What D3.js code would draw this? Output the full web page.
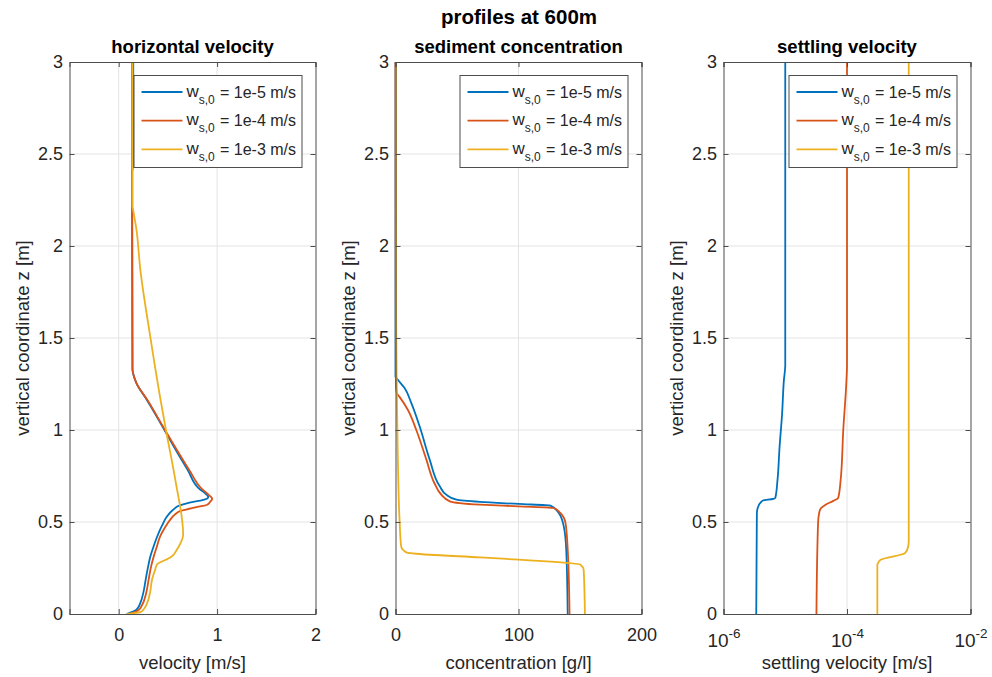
<!DOCTYPE html>
<html>
<head>
<meta charset="utf-8">
<script src="https://cdn.jsdelivr.net/npm/d3@7"></script>
<style>
  html, body { margin: 0; padding: 0; background: #fff; }
  svg { display: block; font-family: "Liberation Sans", Arial, Helvetica, sans-serif; }
</style>
</head>
<body>
<svg id="chart" width="992" height="677"></svg>
<script>
// ---------------- DATA ----------------
const seriesNames = ["1e-5 m/s", "1e-4 m/s", "1e-3 m/s"];
const seriesColors = ["#0072BD", "#D95319", "#EDB120"];

// horizontal velocity [m/s] vs z [m]
const velZ_1e5 = [0, 0.023, 0.06, 0.115, 0.19, 0.26, 0.31, 0.36, 0.42, 0.48, 0.53, 0.565, 0.59, 0.605, 0.62, 0.635, 0.66, 0.675, 0.784, 0.91, 1.0, 1.16, 1.255, 1.30, 1.33, 2.4, 2.45, 3.0];
const velV_1e5 = [0.08, 0.18, 0.22, 0.25, 0.275, 0.30, 0.32, 0.35, 0.39, 0.44, 0.49, 0.55, 0.62, 0.72, 0.86, 0.91, 0.87, 0.83, 0.70, 0.56, 0.465, 0.29, 0.18, 0.15, 0.14, 0.137, 0.148, 0.148];
const velZ_1e4 = [0, 0.02, 0.046, 0.115, 0.19, 0.26, 0.32, 0.37, 0.42, 0.47, 0.51, 0.54, 0.56, 0.58, 0.594, 0.61, 0.627, 0.645, 0.68, 0.784, 0.91, 1.0, 1.16, 1.255, 1.30, 1.33, 3.0];
const velV_1e4 = [0.11, 0.20, 0.235, 0.28, 0.305, 0.33, 0.36, 0.39, 0.42, 0.47, 0.52, 0.57, 0.63, 0.78, 0.90, 0.93, 0.95, 0.92, 0.845, 0.715, 0.57, 0.47, 0.295, 0.18, 0.15, 0.14, 0.135];
const velZ_1e3 = [0, 0.01, 0.03, 0.06, 0.12, 0.19, 0.24, 0.27, 0.285, 0.30, 0.32, 0.34, 0.386, 0.43, 0.73, 1.0, 1.18, 1.51, 1.87, 2.09, 2.2, 2.215, 3.0];
const velV_1e3 = [0.08, 0.22, 0.26, 0.29, 0.32, 0.34, 0.37, 0.39, 0.44, 0.50, 0.555, 0.58, 0.63, 0.655, 0.575, 0.48, 0.42, 0.32, 0.22, 0.18, 0.145, 0.14, 0.14];

// sediment concentration [g/l] vs z [m]
const conZ_1e5 = [0, 0.35, 0.476, 0.549, 0.589, 0.598, 0.609, 0.621, 0.648, 0.694, 0.839, 1.02, 1.147, 1.228, 1.273, 1.29, 3.0];
const conC_1e5 = [140, 138.8, 136.8, 132.7, 126, 100, 68.7, 49.6, 41.4, 36, 27.8, 19.6, 12.8, 7.4, 1.9, 0, 0];
const conZ_1e4 = [0, 0.35, 0.495, 0.549, 0.576, 0.585, 0.594, 0.612, 0.648, 0.712, 0.839, 1.0, 1.11, 1.18, 1.2, 1.25, 3.0];
const conC_1e4 = [141.5, 140, 138.2, 134, 128.6, 100, 68.7, 44.2, 37.3, 31.6, 25.1, 16.9, 10, 3.3, 1.1, 0.3, 0];
const conZ_1e3 = [0, 0.24, 0.268, 0.286, 0.295, 0.308, 0.322, 0.335, 0.367, 0.51, 0.84, 1.2, 1.6, 3.0];
const conC_1e3 = [154, 153, 150.4, 123, 100, 68.7, 27.8, 8.7, 4.6, 3.3, 1.9, 1.1, 0.5, 0.3];

// settling velocity [m/s] vs z [m]
const wsZ_1e5 = [0, 0.549, 0.59, 0.605, 0.617, 0.625, 0.63, 0.73, 0.91, 1.09, 1.27, 1.35, 3.0];
const wsW_1e5 = [3.39e-6, 3.47e-6, 3.72e-6, 3.98e-6, 4.37e-6, 6.3e-6, 6.9e-6, 7.5e-6, 8.1e-6, 8.9e-6, 9.5e-6, 1e-5, 1e-5];
const wsZ_1e4 = [0, 0.495, 0.55, 0.57, 0.594, 0.615, 0.63, 0.73, 1.0, 1.27, 1.35, 3.0];
const wsW_1e4 = [3.2e-5, 3.4e-5, 3.55e-5, 3.7e-5, 4.5e-5, 6.0e-5, 7.2e-5, 7.9e-5, 8.7e-5, 9.8e-5, 1e-4, 1e-4];
const wsZ_1e3 = [0, 0.268, 0.285, 0.295, 0.331, 0.367, 0.4, 3.0];
const wsW_1e3 = [3.1e-4, 3.1e-4, 3.3e-4, 3.5e-4, 8.7e-4, 9.8e-4, 1e-3, 1e-3];

// axes / tick labels
const zTicks = [0, 0.5, 1, 1.5, 2, 2.5, 3];
const velTicks = [0, 1, 2];
const conTicks = [0, 100, 200];
const wsTicks = [1e-6, 1e-4, 1e-2];

const mainTitle = "profiles at 600m";
const panelTitles = ["horizontal velocity", "sediment concentration", "settling velocity"];
const xLabels = ["velocity [m/s]", "concentration [g/l]", "settling velocity [m/s]"];
const yLabel = "vertical coordinate z [m]";

// ---------------- DRAW ----------------
const svg = d3.select("#chart");
const TXT = "#262626", AX = "#4d4d4d", GRID = "#e3e3e3";
const FONT = "'Liberation Sans', Arial, sans-serif";

const plotTop = 62, plotBottom = 614;
const panels = [
  { left: 69.5, right: 315.5, x: d3.scaleLinear().domain([-0.5, 2]), ticks: velTicks, log: false,
    series: [[velZ_1e5, velV_1e5], [velZ_1e4, velV_1e4], [velZ_1e3, velV_1e3]] },
  { left: 395.5, right: 641.5, x: d3.scaleLinear().domain([0, 200]), ticks: conTicks, log: false,
    series: [[conZ_1e5, conC_1e5], [conZ_1e4, conC_1e4], [conZ_1e3, conC_1e3]] },
  { left: 723.5, right: 970.5, x: d3.scaleLog().domain([1e-6, 1e-2]), ticks: wsTicks, log: true,
    series: [[wsZ_1e5, wsW_1e5], [wsZ_1e4, wsW_1e4], [wsZ_1e3, wsW_1e3]] }
];

svg.append("text").attr("x", 519).attr("y", 24).attr("text-anchor", "middle")
  .attr("font-size", 20.5).attr("font-weight", "bold").attr("fill", "#000").text(mainTitle);

panels.forEach((p, i) => {
  const x = p.x.range([p.left, p.right]);
  const y = d3.scaleLinear().domain([0, 3]).range([plotBottom, plotTop]);
  const g = svg.append("g");

  // grid
  g.append("g").selectAll("line").data(p.ticks.filter(t => { const px = x(t); return px > p.left + 1 && px < p.right - 1; }))
    .join("line").attr("x1", d => x(d)).attr("x2", d => x(d)).attr("y1", plotTop).attr("y2", plotBottom)
    .attr("stroke", GRID).attr("stroke-width", 1);
  g.append("g").selectAll("line").data(zTicks.filter(t => t > 0 && t < 3))
    .join("line").attr("y1", d => y(d)).attr("y2", d => y(d)).attr("x1", p.left).attr("x2", p.right)
    .attr("stroke", GRID).attr("stroke-width", 1);

  // curves
  const line = d3.line().x(d => x(d[1])).y(d => y(d[0])).curve(d3.curveMonotoneY);
  p.series.forEach((s, k) => {
    const pts = s[0].map((z, j) => [z, s[1][j]]);
    g.append("path").datum(pts).attr("d", line).attr("fill", "none")
      .attr("stroke", seriesColors[k]).attr("stroke-width", 1.8).attr("stroke-linejoin", "round");
  });

  // axes
  const fmt = p.log ? (() => "") : d3.format("~g");
  const axB = g.append("g").attr("transform", `translate(0,${plotBottom})`)
    .call(d3.axisBottom(x).tickValues(p.ticks).tickSize(-5).tickPadding(14).tickFormat(fmt));
  const axT = g.append("g").attr("transform", `translate(0,${plotTop})`)
    .call(d3.axisTop(x).tickValues(p.ticks).tickSize(-5).tickFormat(""));
  const axL = g.append("g").attr("transform", `translate(${p.left},0)`)
    .call(d3.axisLeft(y).tickValues(zTicks).tickSize(-5).tickPadding(6.5).tickFormat(d3.format("~g")));
  const axR = g.append("g").attr("transform", `translate(${p.right},0)`)
    .call(d3.axisRight(y).tickValues(zTicks).tickSize(-5).tickFormat(""));
  [axB, axT, axL, axR].forEach(a => {
    a.select(".domain").attr("stroke", AX).attr("stroke-width", 1);
    a.selectAll(".tick line").attr("stroke", AX);
    a.selectAll("text").attr("fill", TXT).attr("font-size", 18).attr("font-family", FONT);
  });

  if (p.log) {
    axB.selectAll(".tick").each(function(d) {
      const t = d3.select(this).append("text").attr("y", 33).attr("text-anchor", "middle")
        .attr("fill", TXT).attr("font-size", 19).attr("font-family", FONT);
      t.append("tspan").text("10");
      t.append("tspan").attr("dy", -9).attr("font-size", 13.5).text(String(Math.round(Math.log10(d))));
    });
  }

  // title
  g.append("text").attr("x", (p.left + p.right) / 2).attr("y", 52.5).attr("text-anchor", "middle")
    .attr("font-size", 18.5).attr("font-weight", "bold").attr("fill", "#000").text(panelTitles[i]);
  // x label
  g.append("text").attr("x", (p.left + p.right) / 2).attr("y", 669).attr("text-anchor", "middle")
    .attr("font-size", 18.5).attr("fill", TXT).text(xLabels[i]);
  // y label
  g.append("text").attr("transform", `translate(${p.left - 41},${(plotTop + plotBottom) / 2}) rotate(-90)`)
    .attr("text-anchor", "middle").attr("font-size", 18.5).attr("fill", TXT).text(yLabel);

  // legend
  const lw = 168, lh = 92;
  const lx = p.right - 13.5 - lw, ly = plotTop + 13.5;
  const lg = g.append("g").attr("transform", `translate(${lx},${ly})`);
  lg.append("rect").attr("width", lw).attr("height", lh).attr("fill", "#fff")
    .attr("stroke", AX).attr("stroke-width", 1);
  seriesNames.forEach((nm, k) => {
    const ry = 16.5 + k * 28.7;
    lg.append("line").attr("x1", 7.5).attr("x2", 48.5).attr("y1", ry).attr("y2", ry)
      .attr("stroke", seriesColors[k]).attr("stroke-width", 1.8);
    const t = lg.append("text").attr("x", 52.5).attr("y", ry + 4.5).attr("font-size", 17).attr("fill", TXT);
    t.append("tspan").text("w");
    t.append("tspan").attr("dy", 7).attr("font-size", 12).text("s,0");
    t.append("tspan").attr("x", 86).attr("y", ry + 5.5).attr("font-size", 16).text("= " + nm);
  });
});
</script>
</body>
</html>
